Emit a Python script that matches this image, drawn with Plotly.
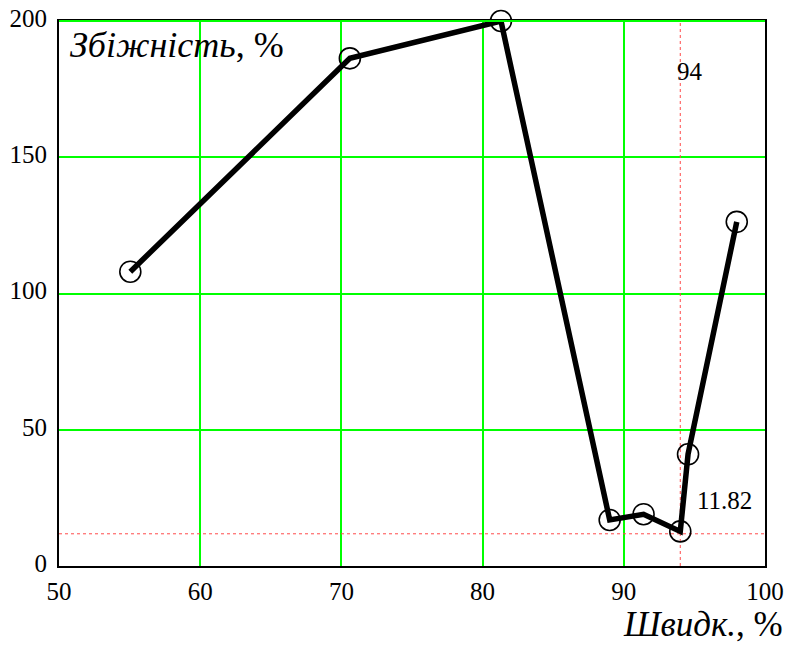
import plotly.graph_objects as go

# Data
speed = [55.05, 70.6, 81.3, 89.0, 91.4, 94.0, 94.55, 98.0]
convergence = [108.0, 186.3, 200.0, 16.9, 19.0, 12.7, 41.0, 126.3]

x_ticks = [50, 60, 70, 80, 90, 100]
y_ticks = [0, 50, 100, 150, 200]

marker_x = [94]
marker_y = [11.82]
marker_x_label = ["94"]
marker_y_label = ["11.82"]

x_title = "<i>Швидк.</i>, %"
y_title = "<i>Збіжність</i>, %"

FONT = "Liberation Serif"
GREEN = "#00ff00"
RED = "#ff4a4a"

fig = go.Figure()

# red dotted trace lines
for xv in marker_x:
    fig.add_trace(go.Scatter(x=[xv, xv], y=[y_ticks[0], y_ticks[-1]], mode="lines",
                             line=dict(color=RED, width=1, dash="dot"),
                             hoverinfo="skip", showlegend=False))
for yv in marker_y:
    fig.add_trace(go.Scatter(x=[x_ticks[0], x_ticks[-1]], y=[yv, yv], mode="lines",
                             line=dict(color=RED, width=1, dash="dot"),
                             hoverinfo="skip", showlegend=False))

fig.add_trace(go.Scatter(
    x=speed, y=convergence, mode="lines+markers",
    line=dict(color="black", width=5.5),
    marker=dict(symbol="circle-open", size=21, color="black", line=dict(width=1.6, color="black")),
    showlegend=False, cliponaxis=False,
))

fig.update_xaxes(range=[x_ticks[0], x_ticks[-1]], tickvals=x_ticks, ticktext=[str(v) for v in x_ticks],
                 showgrid=True, gridcolor=GREEN, gridwidth=2,
                 showline=True, linecolor="black", linewidth=2, mirror=True,
                 ticks="", zeroline=False, automargin=False, ticklabelstandoff=2,
                 tickfont=dict(family=FONT, size=25, color="black"))
fig.update_yaxes(range=[y_ticks[0], y_ticks[-1]], tickvals=y_ticks, ticktext=[str(v) for v in y_ticks],
                 showgrid=True, gridcolor=GREEN, gridwidth=2,
                 showline=True, linecolor="black", linewidth=2, mirror=True,
                 ticks="", zeroline=False, ticklabelstandoff=5, ticklabelshift=-3, automargin=False,
                 tickfont=dict(family=FONT, size=25, color="black"))

annotations = [
    dict(text=y_title, xref="paper", yref="paper", x=0.013, y=0.997, xanchor="left", yanchor="top",
         showarrow=False, font=dict(family=FONT, size=36, color="black")),
    dict(text=x_title, xref="paper", yref="paper", x=1.029, y=-0.108, xanchor="right", yanchor="middle",
         showarrow=False, font=dict(family=FONT, size=35, color="black")),
]
for xv, lab in zip(marker_x, marker_x_label):
    annotations.append(dict(text=lab, x=xv, xref="x", y=0.908, yref="paper", xanchor="left",
                            yanchor="middle", xshift=-5, showarrow=False,
                            font=dict(family=FONT, size=25, color="black")))
for yv, lab in zip(marker_y, marker_y_label):
    annotations.append(dict(text=lab, x=1, xref="paper", y=yv, yref="y", xanchor="right",
                            yanchor="middle", xshift=-11, yshift=33, showarrow=False,
                            font=dict(family=FONT, size=25, color="black")))

fig.update_layout(
    width=789, height=646, autosize=False,
    margin=dict(l=59, r=24, t=21, b=80, autoexpand=False),
    paper_bgcolor="white", plot_bgcolor="white",
    annotations=annotations,
    shapes=[dict(type="line", xref="paper", yref="paper", x0=0, x1=1, y0=1, y1=1,
                 line=dict(color=GREEN, width=2))],
)

fig.write_html("out.html")
